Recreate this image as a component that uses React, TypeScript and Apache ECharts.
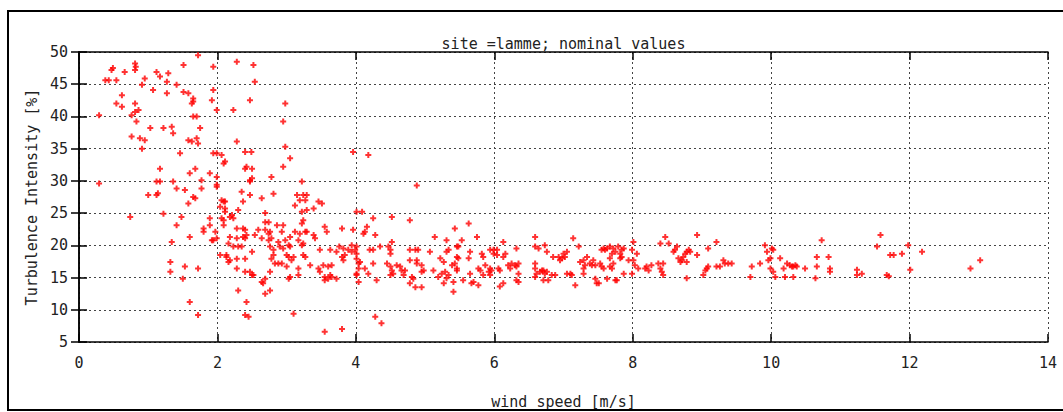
import React, { useEffect, useRef } from "react";
import * as echarts from "echarts";

const titleText = "site =lamme; nominal values";
const xAxisName = "wind speed [m/s]";
const yAxisName = "Turbulence Intensity [%]";
const xTicks = [0, 2, 4, 6, 8, 10, 12, 14];
const yTicks = [5, 10, 15, 20, 25, 30, 35, 40, 45, 50];

// [wind speed m/s, turbulence intensity %]
const lowWindHigh: [number, number][] = [
  [0.29, 40.2], [0.29, 29.6], [0.38, 45.6], [0.43, 45.6], [0.47, 47.2], [0.49, 47.5], [0.54, 45.6],
  [0.66, 46.9], [0.62, 43.3], [0.54, 42.0], [0.62, 41.5], [0.81, 48.2], [0.82, 47.7], [0.81, 47.2],
  [0.91, 44.9], [0.95, 45.9], [1.07, 44.1], [1.12, 46.9], [1.17, 46.2], [1.29, 46.7], [1.27, 45.4],
  [1.27, 43.6], [1.41, 44.9], [1.51, 48.0], [1.51, 43.8], [1.58, 43.6], [1.65, 42.8], [1.65, 42.3],
  [1.63, 42.0], [1.72, 49.5], [1.94, 47.7], [1.94, 44.1], [1.92, 42.5], [1.99, 41.0], [0.81, 42.0],
  [0.76, 40.2], [0.81, 40.7], [0.86, 41.0], [0.83, 39.2], [1.03, 38.2], [1.22, 38.2], [1.34, 38.4],
  [1.36, 37.4], [1.65, 40.0], [1.70, 40.0], [1.75, 38.2], [0.76, 36.9], [0.88, 36.6], [0.95, 36.3],
  [0.91, 35.0], [1.46, 34.3], [1.58, 36.3], [1.63, 36.1], [1.70, 36.6], [1.72, 35.8], [1.94, 34.3],
  [1.99, 34.3], [2.06, 34.0], [2.09, 32.7], [2.11, 33.0], [1.17, 31.9], [1.12, 29.9], [1.17, 29.9],
  [1.36, 29.9], [1.60, 31.2], [1.68, 31.9], [1.89, 31.2], [1.99, 30.6], [1.77, 30.1], [1.99, 29.4],
  [2.28, 36.1], [2.40, 34.5], [2.49, 34.5], [2.40, 31.9], [2.42, 32.2], [2.50, 31.9], [2.47, 30.1],
  [2.50, 30.4], [2.23, 41.0], [2.47, 42.5], [2.28, 48.5], [2.52, 48.0], [2.54, 45.4], [2.98, 42.0],
  [2.95, 39.2], [2.98, 35.3], [3.96, 34.5], [4.18, 34.0], [3.05, 33.5], [2.95, 32.2], [2.78, 30.6],
  [3.22, 29.9],
];

const lowWindLow: [number, number][] = [
  [0.74, 24.4], [1.00, 27.8], [1.12, 27.8], [1.14, 28.1], [1.41, 28.8], [1.53, 28.6], [1.58, 26.5],
  [1.65, 27.5], [1.68, 27.3], [1.77, 28.8], [1.22, 24.9], [1.48, 24.4], [1.41, 23.1], [1.34, 20.5],
  [1.60, 21.3], [1.80, 22.6], [1.80, 22.1], [1.89, 24.2], [1.89, 23.1], [1.97, 22.1], [1.92, 20.8],
  [1.94, 20.8], [1.99, 21.1], [1.99, 29.1], [2.04, 26.0], [2.06, 27.0], [2.09, 26.8], [2.11, 26.8],
  [2.11, 25.7], [2.11, 25.2], [2.06, 24.2], [2.09, 23.9], [2.09, 23.1], [2.04, 18.5], [2.13, 18.5],
  [2.13, 18.2], [2.16, 17.4], [2.16, 20.3], [1.60, 11.2], [1.72, 9.2], [1.32, 17.4], [1.32, 15.9],
  [1.53, 16.7], [1.50, 14.8], [1.72, 16.4],
];

const transition: [number, number][] = [
  [2.47, 29.9], [2.35, 28.3], [2.47, 27.8], [2.81, 28.0], [2.64, 27.3], [2.37, 26.8], [3.15, 27.8],
  [3.24, 27.8], [3.29, 27.8], [3.19, 27.0], [3.27, 27.0], [3.12, 26.2], [3.46, 26.8], [3.51, 26.5],
  [3.39, 25.7], [3.29, 25.5], [3.22, 25.2], [2.18, 24.4], [2.23, 24.2], [2.21, 24.7], [2.30, 25.5],
  [2.69, 25.0], [2.69, 23.6], [2.74, 23.6], [3.24, 23.9], [3.22, 23.4], [4.01, 25.2], [4.09, 25.2],
  [4.25, 24.2], [4.52, 24.4], [4.78, 23.9], [4.88, 29.3], [2.28, 22.6], [2.37, 22.6], [2.40, 22.4],
  [2.59, 22.4], [2.69, 22.4], [2.76, 22.1], [2.74, 21.8], [2.86, 23.1], [2.95, 23.1], [2.93, 22.1],
  [3.12, 22.1], [3.19, 21.8], [3.27, 22.1], [3.29, 22.1], [3.39, 21.6], [3.41, 21.1], [3.55, 22.9],
  [3.58, 22.1], [3.80, 22.6], [3.96, 22.4], [4.11, 21.8], [4.13, 22.1], [4.16, 22.9], [4.28, 21.6],
  [2.18, 21.3], [2.28, 21.1], [2.37, 21.3], [2.40, 21.1], [2.42, 21.6], [2.23, 19.8], [2.30, 19.8],
  [2.35, 19.8], [2.54, 21.6], [2.64, 21.1], [2.74, 20.8], [2.78, 21.1], [2.88, 20.5], [2.90, 19.8],
  [2.95, 19.5], [2.98, 20.8], [3.05, 21.3], [2.76, 19.8], [2.81, 19.3], [3.03, 20.0], [3.05, 19.8],
  [3.17, 20.8], [3.22, 20.0], [3.24, 20.3], [3.48, 19.3], [3.63, 19.3], [3.72, 19.0], [3.76, 19.8],
  [3.82, 19.5], [3.89, 19.3], [3.94, 19.0], [3.99, 19.3], [3.94, 20.0], [4.01, 19.8], [4.20, 19.3],
  [4.25, 19.3], [4.35, 19.8], [4.47, 19.8], [4.50, 19.3], [4.50, 18.7], [4.52, 20.5], [4.78, 19.3],
  [4.86, 19.3], [4.90, 19.3], [5.07, 19.0], [2.18, 17.7], [2.28, 17.9], [2.40, 17.9], [2.50, 19.0],
  [2.40, 15.9], [2.47, 15.9], [2.50, 15.4], [2.52, 15.4], [2.28, 16.4], [2.30, 13.0], [2.42, 11.2],
  [2.40, 9.2], [2.45, 8.9], [2.64, 14.3], [2.66, 14.1], [2.69, 14.8], [2.69, 12.5], [2.76, 13.0],
  [2.81, 18.5], [2.78, 17.9], [2.83, 17.2], [2.88, 17.2], [2.93, 17.2], [2.76, 15.9], [3.00, 18.5],
  [3.03, 18.2], [3.07, 17.7], [3.10, 18.2], [3.05, 15.1], [3.03, 14.8], [3.00, 16.7], [3.10, 9.4],
  [3.17, 16.4], [3.17, 15.4], [3.24, 18.5], [3.27, 18.2], [3.34, 16.9], [3.46, 16.4], [3.48, 15.9],
  [3.55, 15.1], [3.60, 14.8], [3.63, 15.4], [3.65, 15.1], [3.53, 16.9], [3.60, 16.7], [3.65, 16.9],
  [3.55, 14.6], [3.72, 14.8], [3.80, 18.2], [3.82, 17.7], [3.84, 18.5], [4.01, 18.7], [4.01, 17.9],
  [4.04, 17.2], [4.06, 17.4], [4.04, 16.4], [4.01, 15.6], [4.01, 15.4], [4.04, 14.3], [4.13, 16.4],
  [4.18, 15.6], [4.25, 17.2], [4.30, 14.6], [4.28, 8.9], [4.37, 7.9], [3.55, 6.6], [3.80, 7.0],
  [4.45, 17.2], [4.50, 16.7], [4.52, 16.1], [4.50, 15.4], [4.54, 15.6], [4.59, 16.9], [4.64, 16.7],
  [4.66, 16.1], [4.71, 16.1], [4.69, 15.4], [4.78, 17.7], [4.81, 15.1], [4.83, 14.8], [4.88, 17.7],
  [4.88, 17.2], [4.95, 16.9], [4.98, 16.1], [4.95, 15.9], [4.78, 14.1], [4.86, 13.5], [4.95, 13.5],
];

const midWind: [number, number][] = [
  [5.14, 21.3], [5.12, 16.1], [5.19, 15.1], [5.24, 15.6], [5.27, 14.1], [5.22, 18.0], [5.27, 17.4],
  [5.31, 20.8], [5.34, 19.3], [5.31, 19.0], [5.29, 15.9], [5.34, 15.4], [5.31, 14.9], [5.39, 16.9],
  [5.41, 14.3], [5.41, 12.8], [5.43, 22.6], [5.46, 19.8], [5.48, 19.8], [5.46, 18.2], [5.48, 18.0],
  [5.43, 17.2], [5.46, 16.4], [5.46, 16.1], [5.53, 20.8], [5.55, 14.6], [5.63, 23.4], [5.65, 19.0],
  [5.63, 18.0], [5.65, 15.6], [5.67, 14.1], [5.70, 14.3], [5.77, 13.8], [5.75, 21.3], [5.77, 16.4],
  [5.80, 16.1], [5.82, 18.7], [5.84, 18.2], [5.84, 15.4], [5.87, 16.9], [5.92, 15.9], [5.94, 16.4],
  [5.96, 16.1], [5.94, 15.4], [5.94, 19.3], [5.99, 19.3], [6.04, 19.3], [5.99, 18.7], [6.04, 18.5],
  [6.06, 16.4], [6.08, 16.1], [6.08, 13.6], [6.13, 14.1], [6.13, 20.5], [6.16, 18.7], [6.13, 18.2],
  [6.20, 16.9], [6.23, 16.4], [6.25, 17.2], [6.30, 16.9], [6.32, 16.7], [6.35, 17.2], [6.32, 19.5],
  [6.35, 15.6], [6.32, 14.6], [6.35, 14.3], [6.59, 21.3], [6.59, 19.8], [6.59, 17.2], [6.59, 16.4],
  [6.61, 15.6], [6.59, 15.1], [6.64, 19.5], [6.66, 15.9], [6.69, 16.1], [6.71, 16.1], [6.73, 15.6],
  [6.76, 15.9], [6.73, 20.0], [6.76, 19.0], [6.71, 14.6], [6.78, 14.6], [6.83, 15.4], [6.88, 15.4],
  [6.85, 18.2], [6.93, 18.2], [6.95, 17.7], [6.98, 18.0], [7.00, 18.7], [7.02, 18.2], [7.05, 19.0],
  [7.05, 15.6], [7.10, 15.6], [7.12, 15.4], [7.14, 21.1], [7.17, 13.8], [7.22, 19.8], [7.24, 17.4],
  [7.29, 17.7], [7.31, 16.9], [7.29, 16.4], [7.29, 15.6], [7.34, 18.2], [7.38, 17.2], [7.41, 16.9],
  [7.43, 17.7], [7.46, 16.9], [7.46, 14.8], [7.48, 14.1], [7.51, 14.1], [7.55, 19.3], [7.58, 19.5],
  [7.60, 19.3], [7.63, 19.5], [7.53, 17.2], [7.55, 16.7], [7.58, 16.4], [7.63, 14.8], [7.67, 18.0],
  [7.70, 16.4],
];

const highWind: [number, number][] = [
  [7.67, 19.8], [7.72, 19.5], [7.70, 18.7], [7.75, 19.0], [7.72, 17.2], [7.67, 16.7], [7.75, 14.6],
  [7.77, 14.6], [7.79, 19.8], [7.82, 18.7], [7.84, 19.3], [7.87, 19.5], [7.82, 18.0], [7.84, 18.2],
  [7.87, 15.6], [7.94, 17.7], [8.01, 20.5], [7.99, 19.3], [8.06, 18.7], [8.01, 17.7], [7.99, 15.6],
  [8.03, 16.9], [8.08, 16.4], [8.20, 16.7], [8.18, 16.4], [8.23, 16.1], [8.27, 16.9], [8.40, 20.3],
  [8.47, 21.3], [8.52, 20.3], [8.37, 17.2], [8.44, 17.2], [8.40, 16.4], [8.42, 15.9], [8.44, 15.4],
  [8.59, 19.0], [8.61, 19.3], [8.64, 19.8], [8.66, 18.0], [8.71, 17.7], [8.69, 17.4], [8.76, 18.7],
  [8.78, 19.0], [8.81, 19.3], [8.83, 19.0], [8.73, 18.2], [8.78, 17.4], [8.78, 14.9], [8.93, 21.6],
  [8.93, 18.5], [9.09, 19.5], [9.02, 15.4], [9.05, 16.1], [9.07, 16.4], [9.09, 16.7], [9.21, 20.5],
  [9.21, 16.7], [9.26, 16.7], [9.31, 17.7], [9.33, 17.2], [9.38, 17.2], [9.43, 17.2], [9.72, 16.7],
  [9.70, 15.1], [9.84, 17.2], [9.91, 20.0], [9.94, 19.0], [9.99, 18.0], [9.96, 17.7], [9.99, 16.4],
  [10.01, 19.5], [10.03, 19.3], [10.03, 15.9], [10.06, 15.1], [10.13, 18.0], [10.18, 16.4],
  [10.20, 15.1], [10.23, 17.2], [10.27, 16.9], [10.30, 16.7], [10.32, 16.7], [10.35, 16.9],
  [10.37, 16.7], [10.32, 15.1], [10.49, 16.4], [10.64, 14.9], [10.66, 18.2], [10.66, 16.7],
  [10.73, 20.8], [10.83, 18.2], [10.85, 16.4], [10.85, 15.9], [11.24, 16.2], [11.24, 15.4],
  [11.31, 15.6], [11.53, 19.8], [11.58, 21.6], [11.67, 15.4], [11.70, 15.2], [11.72, 18.5],
  [11.77, 18.5], [11.89, 18.7], [11.98, 20.0], [12.01, 16.2], [12.18, 19.0], [12.88, 16.4],
  [13.02, 17.7],
];

const FONT = "DejaVu Sans Mono";
const plusSymbol = "path://M2,0H4V2H6V4H4V6H2V4H0V2H2Z";

export default function App() {
  const ref = useRef<HTMLDivElement>(null);
  useEffect(() => {
    if (!ref.current) return;
    const chart = echarts.init(ref.current, undefined, { renderer: "svg" });
    const gridLine = { show: true, lineStyle: { color: "#444", type: [2, 3] as any, width: 1 } };
    const axisLine = { show: true, lineStyle: { color: "#000", width: 1.5 } };
    const tick = { show: true, inside: true, length: 8, lineStyle: { color: "#000", width: 1.5 } };
    const label = { color: "#222", fontFamily: FONT, fontSize: 15 };
    const data = [...lowWindHigh, ...lowWindLow, ...transition, ...midWind, ...highWind];
    chart.setOption({
      animation: false,
      backgroundColor: "#fff",
      grid: { left: 79, top: 52, width: 969, height: 290, containLabel: false, outerBoundsMode: "none" },
      xAxis: [
        {
          type: "value", min: xTicks[0], max: xTicks[xTicks.length - 1], interval: 2, position: "bottom",
          name: xAxisName, nameLocation: "middle", nameGap: 52,
          nameTextStyle: { ...label },
          axisLine, axisTick: tick,
          axisLabel: { ...label, margin: 13 }, splitLine: gridLine,
        },
        {
          type: "value", min: xTicks[0], max: xTicks[xTicks.length - 1], interval: 2, position: "top",
          axisLine, axisTick: tick,
          axisLabel: { show: false }, splitLine: { show: false },
        },
      ],
      yAxis: [
        {
          type: "value", min: yTicks[0], max: yTicks[yTicks.length - 1], interval: 5, position: "left",
          name: yAxisName, nameLocation: "middle", nameGap: 40,
          nameTextStyle: { ...label },
          axisLine, axisTick: tick,
          axisLabel: { ...label, margin: 11 }, splitLine: gridLine,
        },
        {
          type: "value", min: yTicks[0], max: yTicks[yTicks.length - 1], interval: 5, position: "right",
          axisLine, axisTick: tick,
          axisLabel: { show: false }, splitLine: { show: false },
        },
      ],
      series: [
        {
          type: "scatter", xAxisIndex: 0, yAxisIndex: 0, data,
          symbol: plusSymbol, symbolSize: 6,
          itemStyle: { color: "#ff0000" },
        },
      ],
      graphic: [
        {
          type: "text", x: 563.5, y: 44, z: 10,
          style: { text: titleText, fill: "#222", font: `15px '${FONT}'`, textAlign: "center", textVerticalAlign: "middle" },
        },
        {
          type: "rect", z: 100, silent: true,
          shape: { x: 8, y: 11, width: 1100, height: 399 },
          style: { fill: "none", stroke: "#000", lineWidth: 2 },
        },
      ],
    });
    return () => chart.dispose();
  }, []);
  return (
    <div
      ref={ref}
      style={{ position: "fixed", left: 0, top: 0, width: 1063, height: 412, background: "#fff" }}
    />
  );
}
